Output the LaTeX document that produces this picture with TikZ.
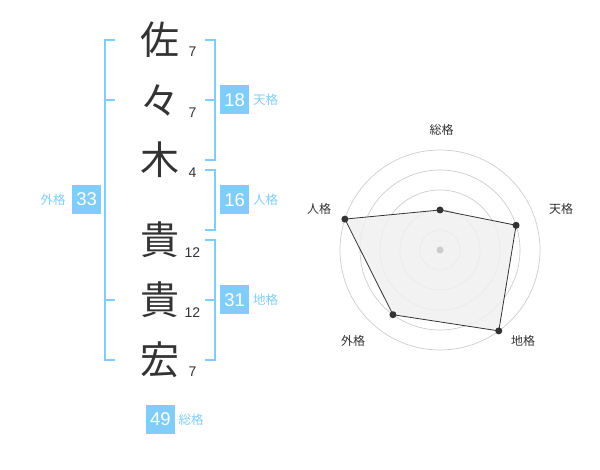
\documentclass[tikz,border=0pt]{standalone}
\usepackage{fontspec}
\usetikzlibrary{calc}
\setmainfont{Liberation Sans}
\newfontfamily\jp{Noto Sans CJK JP}
\definecolor{fb}{HTML}{80CDF9}
\definecolor{ink}{HTML}{333333}
\definecolor{ring}{HTML}{CCCCCC}
\definecolor{area}{HTML}{F0F0F0}
\tikzset{
  kanji/.style={inner sep=0pt, text=ink, font=\jp\fontsize{39}{39}\selectfont},
  strokes/.style={inner sep=0pt, text=ink, font=\fontsize{14}{14}\selectfont},
  score/.style={fill=fb, text=white, minimum size=29pt, inner sep=0pt, font=\fontsize{18.5}{18.5}\selectfont},
  kaku/.style={inner sep=0pt, text=fb, font=\jp\fontsize{12.5}{12.5}\selectfont},
  brk/.style={draw=fb, line width=2pt},
  rlab/.style={inner sep=0pt, text=ink, font=\jp\fontsize{12}{12}\selectfont},
  dot/.style={circle, fill=ink, inner sep=0pt, minimum size=7pt},
}
\begin{document}
\begin{tikzpicture}[x=1pt,y=-1pt]
\useasboundingbox (0,0) rectangle (600,470);
% kanji
\node[kanji] (k1) at (160,40) {佐};
\node[kanji] (k2) at (160,100) {々};
\node[kanji] (k3) at (160,160) {木};
\node[kanji] (k4) at (160,240) {貴};
\node[kanji] (k5) at (160,300) {貴};
\node[kanji] (k6) at (160,360) {宏};
% stroke counts
\node[strokes] (n1) at (192.5,52) {7};
\node[strokes] (n2) at (192.5,112.5) {7};
\node[strokes] (n3) at (192.5,172.5) {4};
\node[strokes] (n4) at (192.5,252.5) {12};
\node[strokes] (n5) at (192.5,312.5) {12};
\node[strokes] (n6) at (192.5,372) {7};
% brackets
\draw[brk] (115,40) -- (105,40) -- (105,360) -- (115,360);
\draw[brk] (105,100) -- (115,100);
\draw[brk] (105,300) -- (115,300);
\draw[brk] (205,40) -- (214.5,40) -- (214.5,160) -- (205,160);
\draw[brk] (205,100) -- (214.5,100);
\draw[brk] (205,170) -- (214.5,170) -- (214.5,230) -- (205,230);
\draw[brk] (205,240) -- (214.5,240) -- (214.5,360) -- (205,360);
\draw[brk] (205,300) -- (214.5,300);
% scores
\node[score] (s18) at (234.7,100) {18};
\node[kaku, anchor=west] (l18) at (253,100) {天格};
\node[score] (s16) at (234.7,200) {16};
\node[kaku, anchor=west] (l16) at (253,200) {人格};
\node[score] (s31) at (234.7,300) {31};
\node[kaku, anchor=west] (l31) at (253,300) {地格};
\node[score] (s33) at (86.7,199.5) {33};
\node[kaku] (l33) at (53,200) {外格};
\node[score] (s49) at (160.3,419) {49};
\node[kaku, anchor=west] (l49) at (178.5,419.5) {総格};
% radar
\coordinate (c) at (440,250);
\foreach \r in {20,40,60,80,100}
  \draw[ring, line width=0.7pt] (c) circle[radius=\r];
\coordinate (p1) at ($(c)+(-90:40)$);
\coordinate (p2) at ($(c)+(-18:80)$);
\coordinate (p3) at ($(c)+(54:100)$);
\coordinate (p4) at ($(c)+(126:80)$);
\coordinate (p5) at ($(c)+(198:100)$);
\fill[area, opacity=0.85] (p1) -- (p2) -- (p3) -- (p4) -- (p5) -- cycle;
\draw[ink, line width=0.8pt] (p1) -- (p2) -- (p3) -- (p4) -- (p5) -- cycle;
\node[circle, fill=ring, inner sep=0pt, minimum size=7pt] (c0) at (c) {};
\foreach \i in {1,...,5} \node[dot] (d\i) at (p\i) {};
\node[rlab] (r1) at (441.5,130) {総格};
\node[rlab] (r2) at (561,208.5) {天格};
\node[rlab] (r3) at (523,341) {地格};
\node[rlab] (r4) at (353,341) {外格};
\node[rlab] (r5) at (319,208.5) {人格};
\end{tikzpicture}
\end{document}
